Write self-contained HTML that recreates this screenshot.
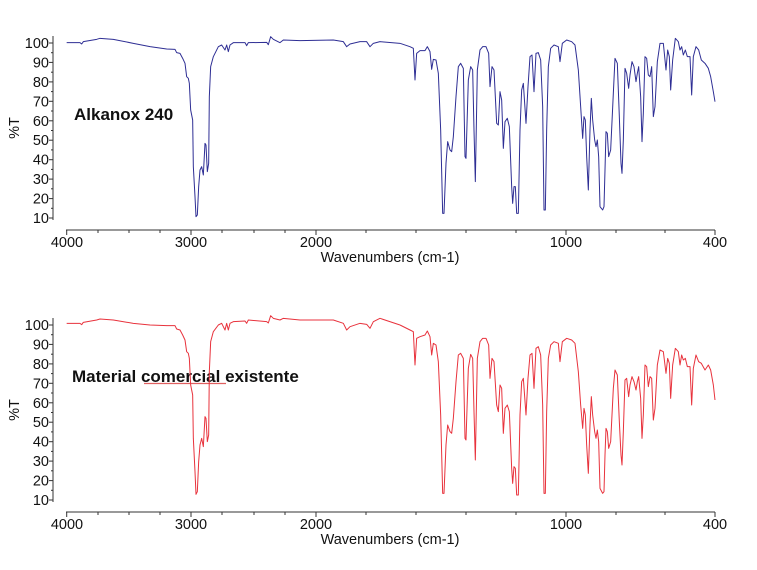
<!DOCTYPE html>
<html><head><meta charset="utf-8"><style>
html,body{margin:0;padding:0;background:#fff;}
svg{display:block;font-family:"Liberation Sans",Arial,sans-serif;}
</style></head><body>
<svg width="757" height="570" viewBox="0 0 757 570" xmlns="http://www.w3.org/2000/svg">
<defs>
<g id="axes">
  <line x1="53" y1="36" x2="53" y2="220" stroke="#333" stroke-width="1"/>
  <line x1="66" y1="230" x2="715" y2="230" stroke="#333" stroke-width="1"/>
  <g stroke="#333" stroke-width="1">
    <line x1="49" y1="43" x2="53" y2="43"/><line x1="49" y1="62.4" x2="53" y2="62.4"/><line x1="49" y1="81.9" x2="53" y2="81.9"/><line x1="49" y1="101.3" x2="53" y2="101.3"/><line x1="49" y1="120.8" x2="53" y2="120.8"/><line x1="49" y1="140.2" x2="53" y2="140.2"/><line x1="49" y1="159.7" x2="53" y2="159.7"/><line x1="49" y1="179.1" x2="53" y2="179.1"/><line x1="49" y1="198.6" x2="53" y2="198.6"/><line x1="49" y1="218" x2="53" y2="218"/>
    <line x1="51" y1="52.7" x2="53" y2="52.7"/><line x1="51" y1="72.2" x2="53" y2="72.2"/><line x1="51" y1="91.6" x2="53" y2="91.6"/><line x1="51" y1="111" x2="53" y2="111"/><line x1="51" y1="130.5" x2="53" y2="130.5"/><line x1="51" y1="149.9" x2="53" y2="149.9"/><line x1="51" y1="169.4" x2="53" y2="169.4"/><line x1="51" y1="188.8" x2="53" y2="188.8"/><line x1="51" y1="208.3" x2="53" y2="208.3"/>
    <line x1="66.7" y1="230" x2="66.7" y2="235"/><line x1="98" y1="230" x2="98" y2="233"/><line x1="129" y1="230" x2="129" y2="233"/><line x1="160" y1="230" x2="160" y2="233"/><line x1="191" y1="230" x2="191" y2="235"/><line x1="222" y1="230" x2="222" y2="233"/><line x1="254" y1="230" x2="254" y2="233"/><line x1="285" y1="230" x2="285" y2="233"/><line x1="316" y1="230" x2="316" y2="235"/><line x1="366" y1="230" x2="366" y2="233"/><line x1="416" y1="230" x2="416" y2="233"/><line x1="466" y1="230" x2="466" y2="233"/><line x1="516" y1="230" x2="516" y2="233"/><line x1="566" y1="230" x2="566" y2="235"/><line x1="616" y1="230" x2="616" y2="233"/><line x1="665" y1="230" x2="665" y2="233"/><line x1="715" y1="230" x2="715" y2="235"/>
  </g>
  <g font-size="14.5" fill="#111" text-anchor="end">
    <text x="49" y="48">100</text><text x="49" y="67.4">90</text><text x="49" y="86.9">80</text><text x="49" y="106.3">70</text><text x="49" y="125.8">60</text><text x="49" y="145.2">50</text><text x="49" y="164.7">40</text><text x="49" y="184.1">30</text><text x="49" y="203.6">20</text><text x="49" y="223">10</text>
  </g>
  <g font-size="14.5" fill="#111" text-anchor="middle">
    <text x="67" y="247">4000</text><text x="191" y="247">3000</text><text x="316" y="247">2000</text><text x="566" y="247">1000</text><text x="715" y="247">400</text>
    <text x="390" y="262">Wavenumbers (cm-1)</text>
  </g>
  <text x="0" y="0" font-size="14.5" fill="#111" text-anchor="middle" transform="translate(19,128) rotate(-90)">%T</text>
</g>
</defs>

<use href="#axes"/>
<use href="#axes" transform="translate(0,282)"/>

<text x="74" y="120" font-size="17" font-weight="bold" fill="#111">Alkanox 240</text>
<text x="72" y="382" font-size="17" font-weight="bold" fill="#111">Material comercial existente</text>
<line x1="144" y1="383.5" x2="226" y2="383.5" stroke="#e06060" stroke-width="1.2"/>

<g transform="translate(0,30) scale(0.33333)" fill="none" stroke="#2e2e94" stroke-width="1" stroke-linejoin="round">
<polyline vector-effect="non-scaling-stroke" points="200,38 240,38 245,42 250,35 290,28 300,25 340,28 400,40 450,50 500,57 525,58 530,68 540,70 548,85 555,100 560,140 565,145 568,160 572,240 578,270 580,410 585,500 588,560 592,555 596,470 600,420 605,410 610,435 615,340 618,345 622,425 626,400 628,200 632,110 640,80 655,50 665,45 675,60 680,45 685,65 690,45 700,38 735,38 740,47 745,38 800,37 805,44 812,20 820,28 840,38 850,30 900,32 1000,30 1030,35 1040,50 1050,42 1080,35 1100,35 1110,50 1120,40 1140,35 1200,40"/>
</g>
<g transform="translate(400,30) scale(0.33333)" fill="none" stroke="#2e2e94" stroke-width="1" stroke-linejoin="round">
<polyline vector-effect="non-scaling-stroke" points="0,40 30,50 40,55 45,150 50,70 60,62 75,62 82,50 90,65 95,118 100,88 108,90 115,130 122,300 128,550 132,550 138,400 143,335 150,360 155,365 160,320 168,200 175,110 182,100 190,115 195,380 198,385 205,150 212,110 218,120 222,300 226,455 232,120 240,60 248,50 258,50 266,70 270,170 276,110 282,120 290,280 295,285 300,185 305,210 310,355 315,275 322,265 328,290 335,470 338,520 342,470 346,470 350,550 355,550 360,300 365,180 370,160 378,280 384,170 390,80 396,75 402,185 408,70 415,68 422,90 428,230 432,540 436,540 440,300 445,110 452,55 462,45 475,50 480,95 487,40 500,30 515,35 525,45 535,120 542,230 548,325 552,260 556,270 560,380 565,480 570,300 574,205 578,270 584,330 588,350 592,330 596,380 600,530 608,540 612,530 615,420 618,305 622,310 626,380 632,360 640,190 645,85 652,100 658,260 663,400 666,430 670,330 675,115 680,130 686,175 690,135 696,95 702,110 708,155 712,130 716,110 722,200 726,335 730,250 735,80 740,85 745,135 750,140 755,110 760,260 765,230 772,95 780,40 790,40 798,120 803,60 808,80 812,180 818,90 826,25 835,35 840,60 845,50 850,75 856,60 862,80 870,80 875,195 880,80 888,50 896,60 904,90 915,100 925,115 932,140 940,185 945,215"/>
</g>

<g transform="translate(0,305) scale(0.33333)" fill="none" stroke="#e8323c" stroke-width="1" stroke-linejoin="round">
<polyline vector-effect="non-scaling-stroke" points="200,55 240,55 245,59 250,52 290,45 300,42 340,45 400,55 450,60 500,62 525,62 530,72 540,75 548,90 555,105 560,140 565,145 568,160 572,240 578,270 580,400 585,500 588,568 592,560 596,470 600,420 605,400 610,425 615,335 618,340 622,410 626,390 628,200 632,110 640,80 655,60 665,55 675,75 680,55 685,75 690,55 700,50 735,48 740,55 745,45 800,50 805,54 812,32 820,40 840,45 850,40 900,45 1000,45 1030,55 1040,75 1050,65 1080,55 1100,58 1110,70 1120,50 1140,40 1200,60"/>
</g>
<g transform="translate(400,305) scale(0.33333)" fill="none" stroke="#e8323c" stroke-width="1" stroke-linejoin="round">
<polyline vector-effect="non-scaling-stroke" points="0,60 30,75 40,80 45,180 50,100 60,95 75,90 82,78 90,95 95,150 100,115 108,120 115,170 122,330 128,565 132,565 138,420 143,360 150,380 155,385 160,340 168,230 175,150 182,145 190,160 195,400 198,405 205,190 212,148 218,160 222,320 226,465 232,160 240,110 248,100 258,100 266,120 270,220 276,160 282,170 290,300 295,320 300,240 305,250 310,385 315,310 322,300 328,320 335,490 338,535 342,485 346,490 350,570 355,570 360,330 365,230 370,220 378,330 384,220 390,150 396,145 402,250 408,130 415,125 422,150 428,300 432,565 436,565 440,320 445,160 452,120 462,110 475,115 480,170 487,110 500,100 515,105 525,115 535,200 542,300 548,370 552,310 556,330 560,420 565,505 570,360 574,275 578,330 584,380 588,400 592,375 596,410 600,550 608,565 612,560 615,450 618,370 622,380 626,430 632,410 640,250 645,195 652,210 658,350 663,450 666,480 670,380 675,225 680,220 686,275 690,240 696,215 702,230 708,255 712,230 716,215 722,280 726,400 730,330 735,180 740,185 745,245 750,215 755,220 760,345 765,310 772,180 780,135 790,140 798,205 803,160 808,175 812,280 818,180 826,130 835,140 840,180 845,150 850,165 856,160 862,185 870,185 875,300 880,190 888,150 896,170 904,175 915,195 925,180 932,195 940,240 945,285"/>
</g>
</svg>
</body></html>
